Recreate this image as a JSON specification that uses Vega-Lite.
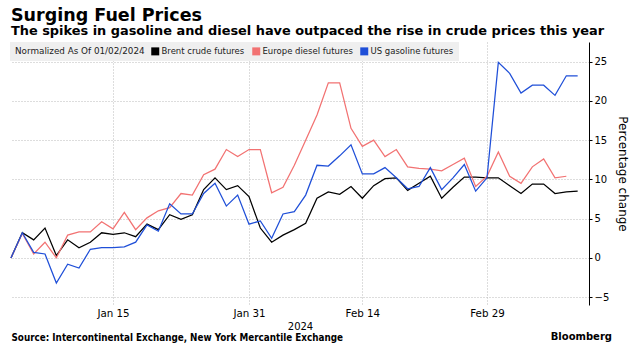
{
  "$schema": "https://vega.github.io/schema/vega-lite/v6.json",
  "autosize": {"type": "none"},
  "width": 578,
  "height": 263,
  "padding": {"left": 11, "top": 42, "right": 51, "bottom": 52},
  "background": "white",
  "config": {"view": {"stroke": null}},
  "title": {
    "text": "Surging Fuel Prices",
    "subtitle": "The spikes in gasoline and diesel have outpaced the rise in crude prices this year",
    "anchor": "start",
    "frame": "group",
    "font": "DejaVu Sans",
    "fontSize": 17.5,
    "fontWeight": "bold",
    "color": "#000000",
    "subtitleFont": "DejaVu Sans",
    "subtitleFontSize": 12.9,
    "subtitleFontWeight": "bold",
    "subtitleColor": "#000000",
    "subtitlePadding": 1,
    "offset": 4
  },
  "layer": [
    {
      "data": {
        "values": [
          {"i": 0, "d": "2024-01-02", "Brent crude futures": 0, "Europe diesel futures": 0, "US gasoline futures": 0},
          {"i": 1, "d": "2024-01-03", "Brent crude futures": 3.2, "Europe diesel futures": 3.1, "US gasoline futures": 3.2},
          {"i": 2, "d": "2024-01-04", "Brent crude futures": 2.3, "Europe diesel futures": 0.5, "US gasoline futures": 0.7},
          {"i": 3, "d": "2024-01-05", "Brent crude futures": 3.8, "Europe diesel futures": 2.0, "US gasoline futures": 0.5},
          {"i": 4, "d": "2024-01-08", "Brent crude futures": 0.3, "Europe diesel futures": 0.0, "US gasoline futures": -3.2},
          {"i": 5, "d": "2024-01-09", "Brent crude futures": 2.3, "Europe diesel futures": 2.9, "US gasoline futures": -0.8},
          {"i": 6, "d": "2024-01-10", "Brent crude futures": 1.3, "Europe diesel futures": 3.3, "US gasoline futures": -1.3},
          {"i": 7, "d": "2024-01-11", "Brent crude futures": 2.0, "Europe diesel futures": 3.3, "US gasoline futures": 1.1},
          {"i": 8, "d": "2024-01-12", "Brent crude futures": 3.2, "Europe diesel futures": 4.6, "US gasoline futures": 1.3},
          {"i": 9, "d": "2024-01-15", "Brent crude futures": 3.0, "Europe diesel futures": 3.7, "US gasoline futures": 1.3},
          {"i": 10, "d": "2024-01-16", "Brent crude futures": 3.2, "Europe diesel futures": 5.8, "US gasoline futures": 1.4},
          {"i": 11, "d": "2024-01-17", "Brent crude futures": 2.7, "Europe diesel futures": 3.6, "US gasoline futures": 2.0},
          {"i": 12, "d": "2024-01-18", "Brent crude futures": 4.3, "Europe diesel futures": 5.1, "US gasoline futures": 4.2},
          {"i": 13, "d": "2024-01-19", "Brent crude futures": 3.6, "Europe diesel futures": 6.0, "US gasoline futures": 3.4},
          {"i": 14, "d": "2024-01-22", "Brent crude futures": 5.5, "Europe diesel futures": 6.4, "US gasoline futures": 6.9},
          {"i": 15, "d": "2024-01-23", "Brent crude futures": 4.9, "Europe diesel futures": 8.2, "US gasoline futures": 5.6},
          {"i": 16, "d": "2024-01-24", "Brent crude futures": 5.5, "Europe diesel futures": 8.0, "US gasoline futures": 5.6},
          {"i": 17, "d": "2024-01-25", "Brent crude futures": 8.7, "Europe diesel futures": 10.6, "US gasoline futures": 8.2},
          {"i": 18, "d": "2024-01-26", "Brent crude futures": 10.2, "Europe diesel futures": 11.3, "US gasoline futures": 9.5},
          {"i": 19, "d": "2024-01-29", "Brent crude futures": 8.7, "Europe diesel futures": 13.8, "US gasoline futures": 6.6},
          {"i": 20, "d": "2024-01-30", "Brent crude futures": 9.2, "Europe diesel futures": 12.9, "US gasoline futures": 8.0},
          {"i": 21, "d": "2024-01-31", "Brent crude futures": 7.8, "Europe diesel futures": 13.8, "US gasoline futures": 4.3},
          {"i": 22, "d": "2024-02-01", "Brent crude futures": 3.8, "Europe diesel futures": 13.8, "US gasoline futures": 4.7},
          {"i": 23, "d": "2024-02-02", "Brent crude futures": 2.0, "Europe diesel futures": 8.3, "US gasoline futures": 2.5},
          {"i": 24, "d": "2024-02-05", "Brent crude futures": 2.9, "Europe diesel futures": 9.0, "US gasoline futures": 5.6},
          {"i": 25, "d": "2024-02-06", "Brent crude futures": 3.6, "Europe diesel futures": 11.8, "US gasoline futures": 5.9},
          {"i": 26, "d": "2024-02-07", "Brent crude futures": 4.4, "Europe diesel futures": 15.0, "US gasoline futures": 8.0},
          {"i": 27, "d": "2024-02-08", "Brent crude futures": 7.6, "Europe diesel futures": 18.2, "US gasoline futures": 11.8},
          {"i": 28, "d": "2024-02-09", "Brent crude futures": 8.4, "Europe diesel futures": 22.3, "US gasoline futures": 11.7},
          {"i": 29, "d": "2024-02-12", "Brent crude futures": 8.1, "Europe diesel futures": 22.3, "US gasoline futures": 13.0},
          {"i": 30, "d": "2024-02-13", "Brent crude futures": 9.1, "Europe diesel futures": 16.5, "US gasoline futures": 14.4},
          {"i": 31, "d": "2024-02-14", "Brent crude futures": 7.6, "Europe diesel futures": 14.2, "US gasoline futures": 10.7},
          {"i": 32, "d": "2024-02-15", "Brent crude futures": 9.2, "Europe diesel futures": 15.0, "US gasoline futures": 10.7},
          {"i": 33, "d": "2024-02-16", "Brent crude futures": 10.1, "Europe diesel futures": 12.9, "US gasoline futures": 11.5},
          {"i": 34, "d": "2024-02-19", "Brent crude futures": 10.2, "Europe diesel futures": 13.8, "US gasoline futures": 10.2},
          {"i": 35, "d": "2024-02-20", "Brent crude futures": 8.6, "Europe diesel futures": 11.6, "US gasoline futures": 8.8},
          {"i": 36, "d": "2024-02-21", "Brent crude futures": 9.5, "Europe diesel futures": 11.4, "US gasoline futures": 9.1},
          {"i": 37, "d": "2024-02-22", "Brent crude futures": 10.4, "Europe diesel futures": 11.3, "US gasoline futures": 11.5},
          {"i": 38, "d": "2024-02-23", "Brent crude futures": 7.6, "Europe diesel futures": 11.1, "US gasoline futures": 8.7},
          {"i": 39, "d": "2024-02-26", "Brent crude futures": 9.0, "Europe diesel futures": 11.9, "US gasoline futures": 10.2},
          {"i": 40, "d": "2024-02-27", "Brent crude futures": 10.3, "Europe diesel futures": 12.7, "US gasoline futures": 11.9},
          {"i": 41, "d": "2024-02-28", "Brent crude futures": 10.3, "Europe diesel futures": 9.1, "US gasoline futures": 8.5},
          {"i": 42, "d": "2024-02-29", "Brent crude futures": 10.2, "Europe diesel futures": 10.4, "US gasoline futures": 10.2},
          {"i": 43, "d": "2024-03-01", "Brent crude futures": 10.2, "Europe diesel futures": 13.5, "US gasoline futures": 24.9},
          {"i": 44, "d": "2024-03-04", "Brent crude futures": 9.2, "Europe diesel futures": 10.4, "US gasoline futures": 23.5},
          {"i": 45, "d": "2024-03-05", "Brent crude futures": 8.2, "Europe diesel futures": 9.5, "US gasoline futures": 21.0},
          {"i": 46, "d": "2024-03-06", "Brent crude futures": 9.4, "Europe diesel futures": 11.6, "US gasoline futures": 22.0},
          {"i": 47, "d": "2024-03-07", "Brent crude futures": 9.4, "Europe diesel futures": 12.6, "US gasoline futures": 22.0},
          {"i": 48, "d": "2024-03-08", "Brent crude futures": 8.2, "Europe diesel futures": 10.2, "US gasoline futures": 20.7},
          {"i": 49, "d": "2024-03-11", "Brent crude futures": 8.4, "Europe diesel futures": 10.4, "US gasoline futures": 23.2},
          {"i": 50, "d": "2024-03-12", "Brent crude futures": 8.5, "Europe diesel futures": null, "US gasoline futures": 23.2}
        ]
      },
      "transform": [
        {"fold": ["Brent crude futures", "Europe diesel futures", "US gasoline futures"], "as": ["series", "value"]}
      ],
      "mark": {"type": "line", "strokeWidth": 1.25},
      "encoding": {
        "x": {
          "field": "i",
          "type": "quantitative",
          "scale": {"domain": [0, 51], "nice": false, "zero": false},
          "axis": {
            "orient": "bottom",
            "values": [9, 21, 31, 42],
            "labelExpr": "datum.value == 9 ? 'Jan 15' : datum.value == 21 ? 'Jan 31' : datum.value == 31 ? 'Feb 14' : 'Feb 29'",
            "title": "2024",
            "titleFont": "DejaVu Sans",
            "titleFontSize": 10,
            "titleFontWeight": "normal",
            "titleColor": "#000000",
            "titlePadding": 3,
            "labelFont": "DejaVu Sans",
            "labelFontSize": 10.3,
            "labelColor": "#000000",
            "labelPadding": 3,
            "domain": false,
            "ticks": false,
            "grid": true,
            "gridColor": "#bbbbbb",
            "gridDash": [1, 2],
            "gridWidth": 1
          }
        },
        "y": {
          "field": "value",
          "type": "quantitative",
          "scale": {"domain": [-6, 27.5], "nice": false, "zero": false},
          "axis": {
            "orient": "right",
            "values": [-5, 0, 5, 10, 15, 20, 25],
            "title": "Percentage change",
            "titleFont": "DejaVu Sans",
            "titleFontSize": 12,
            "titleFontWeight": "normal",
            "titleColor": "#000000",
            "titleAngle": 90,
            "titlePadding": 7,
            "labelFont": "DejaVu Sans",
            "labelFontSize": 10,
            "labelColor": "#000000",
            "labelPadding": 2,
            "tickSize": 3,
            "tickColor": "#000000",
            "domainColor": "#000000",
            "grid": true,
            "gridColor": "#bbbbbb",
            "gridDash": [1, 2],
            "gridWidth": 1
          }
        },
        "color": {
          "field": "series",
          "type": "nominal",
          "scale": {
            "domain": ["Brent crude futures", "Europe diesel futures", "US gasoline futures"],
            "range": ["#000000", "#f27272", "#1f4fd8"]
          },
          "legend": {
            "title": "Normalized As Of 01/02/2024",
            "orient": "none",
            "legendX": -1,
            "legendY": 0,
            "direction": "horizontal",
            "columns": 3,
            "titleOrient": "left",
            "titleFont": "DejaVu Sans",
            "titleFontSize": 8.8,
            "titleFontWeight": "normal",
            "titleColor": "#222222",
            "titlePadding": 6,
            "labelFont": "DejaVu Sans",
            "labelFontSize": 8.5,
            "labelColor": "#222222",
            "labelOffset": 2,
            "columnPadding": 7,
            "symbolType": "square",
            "symbolSize": 64,
            "symbolStrokeWidth": 0,
            "padding": 5,
            "fillColor": "#efefef",
            "encode": {
              "symbols": {"update": {"fill": {"scale": "color", "field": "value"}, "fillOpacity": {"value": 1}}}
            }
          }
        }
      }
    },
    {
      "data": {"values": [{"t": "Source: Intercontinental Exchange, New York Mercantile Exchange"}]},
      "mark": {"type": "text", "align": "left", "baseline": "middle", "font": "DejaVu Sans Condensed, DejaVu Sans", "fontWeight": "bold", "fontSize": 9.8, "color": "#000000", "x": 0.5, "y": 296},
      "encoding": {"text": {"field": "t"}}
    },
    {
      "data": {"values": [{"t": "Bloomberg"}]},
      "mark": {"type": "text", "align": "right", "baseline": "middle", "font": "DejaVu Sans", "fontWeight": "bold", "fontSize": 10, "color": "#000000", "x": 601, "y": 295},
      "encoding": {"text": {"field": "t"}}
    }
  ]
}
